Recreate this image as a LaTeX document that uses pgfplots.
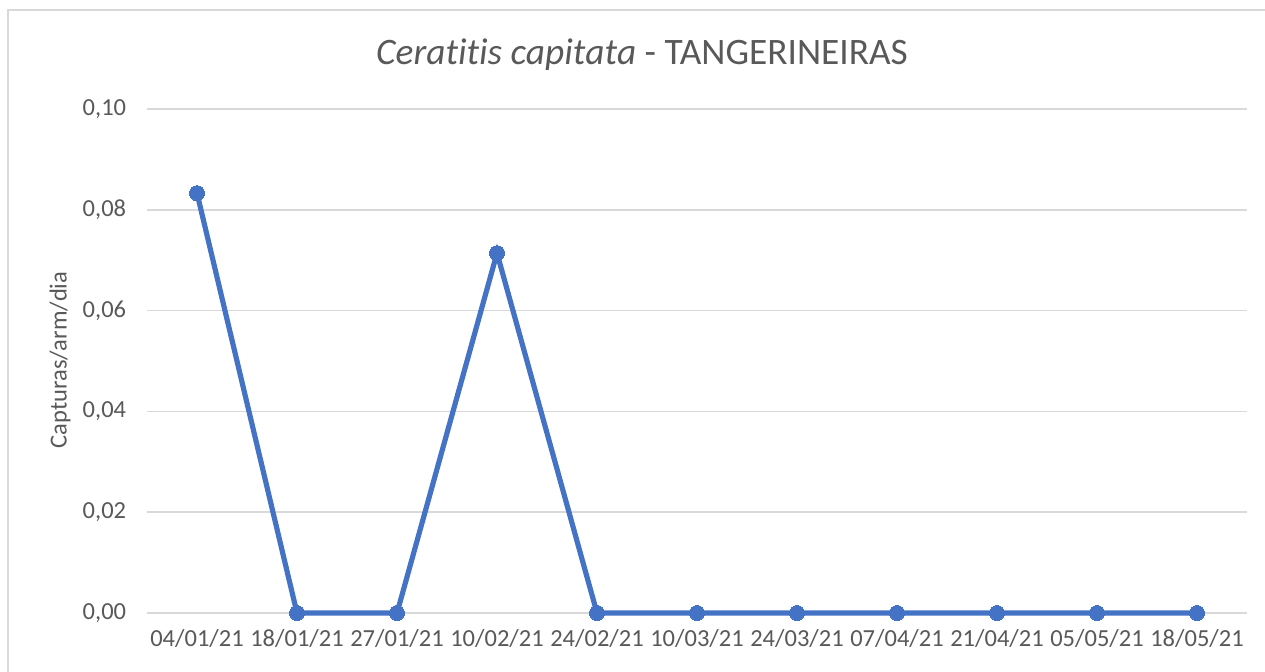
\documentclass[border=0pt]{standalone}
\usepackage{pgfplots}
\pgfplotsset{compat=1.18}
\usepackage{fontspec}
\setmainfont{Carlito}[Ligatures={NoCommon}]
\definecolor{txtc}{HTML}{595959}
\definecolor{gridc}{HTML}{D9D9D9}
\definecolor{linec}{HTML}{4472C4}
\begin{document}
\begin{tikzpicture}[x=0.6pt,y=0.6pt]
\useasboundingbox (0,0) rectangle (1265,671);
\fill[white] (0,0) rectangle (1265,671);
\draw[gridc,line width=0.9pt] (8,-20) -- (8,661) -- (1290,661);
\begin{axis}[
  at={(147*0.6pt,58*0.6pt)}, anchor=south west,
  scale only axis, width=660pt, height=302.4pt,
  xmin=-0.5, xmax=10.5, ymin=0, ymax=0.1,
  xtick={0,...,10},
  xticklabels={04/01/21,18/01/21,27/01/21,10/02/21,24/02/21,10/03/21,24/03/21,07/04/21,21/04/21,05/05/21,18/05/21},
  ytick={0,0.02,0.04,0.06,0.08,0.1},
  yticklabels={{0,00},{0,02},{0,04},{0,06},{0,08},{0,10}},
  axis line style={draw=none},
  axis x line*=bottom,
  x axis line style={draw=gridc, line width=0.9pt},
  major tick length=0pt,
  ymajorgrids, xmajorgrids=false,
  major grid style={draw=gridc, line width=0.9pt},
  tick label style={font=\fontsize{14.7}{17}\selectfont, text=txtc},
  yticklabel style={xshift=-9pt},
  xticklabel style={yshift=-6.5pt},
  clip=false,
]
\addplot[linec, line width=3.1pt, mark=*, mark size=4.5pt, mark options={fill=linec, draw=linec, line width=0pt}] coordinates {
(0,0.0833) (1,0) (2,0) (3,0.0714) (4,0) (5,0) (6,0) (7,0) (8,0) (9,0) (10,0)
};
\end{axis}
\node[text=txtc, font=\fontsize{22.4}{26}\selectfont] at (642,616) {\textit{Cerat\kern0pt it\kern0pt is capit\kern0pt at\kern0pt a} - TANGERINEIRAS};
\node[text=txtc, rotate=90, font=\fontsize{14.7}{17}\selectfont] at (60,311) {Capturas/arm/dia};
\end{tikzpicture}
\end{document}
